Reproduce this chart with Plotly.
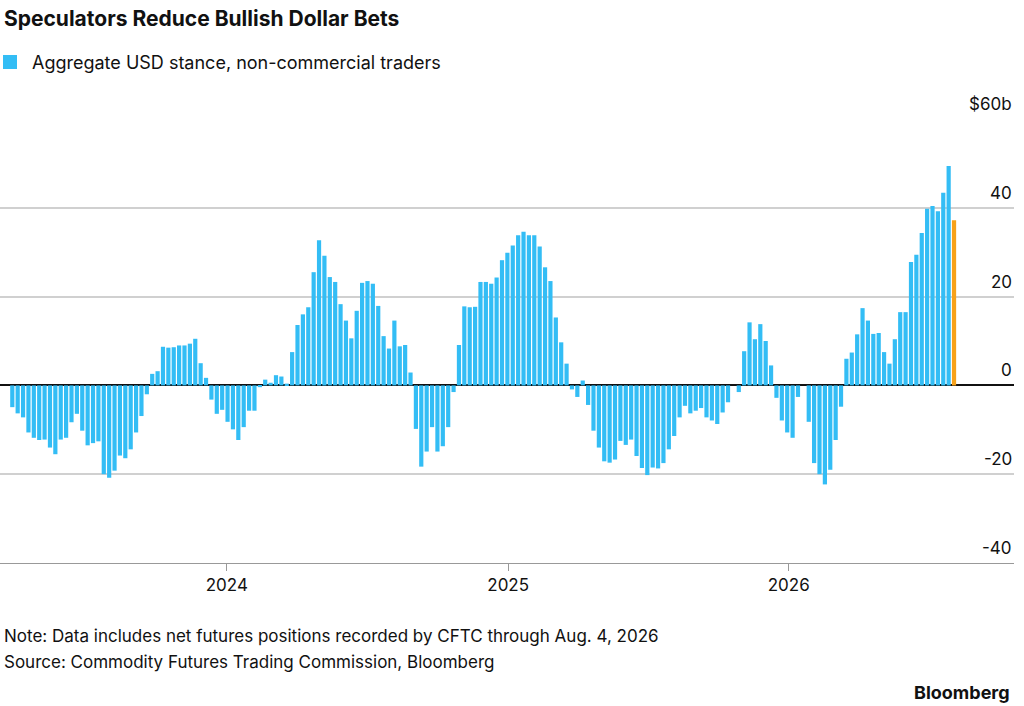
import pandas as pd
import plotly.graph_objects as go

# weekly aggregate USD stance, $ billions
values = [
    -4.9, -6.3, -7.2, -10.6, -11.8, -12.3, -12.2, -14.0, -15.5, -12.2,
    -11.8, -8.3, -6.4, -10.2, -13.5, -13.0, -12.6, -20.0, -20.8, -19.2,
    -15.8, -16.4, -14.4, -10.6, -6.9, -2.0, 2.6, 3.2, 8.7, 8.5,
    8.6, 9.0, 9.0, 9.4, 10.5, 5.0, 1.7, -3.2, -6.4, -5.5,
    -8.2, -9.9, -12.3, -9.4, -5.7, -5.7, -0.4, 1.3, 0.6, 2.3,
    2.0, 0.4, 7.5, 13.6, 16.0, 17.6, 25.5, 32.7, 29.2, 24.4,
    23.3, 18.3, 14.6, 10.6, 16.8, 23.1, 23.5, 22.9, 17.9, 11.1,
    8.3, 14.6, 8.8, 9.1, 2.9, -9.8, -18.3, -14.9, -9.4, -14.9,
    -13.7, -9.4, -1.5, 9.1, 17.8, 17.6, 17.7, 23.3, 23.3, 22.9,
    24.3, 28.2, 29.9, 31.5, 33.8, 34.6, 33.8, 33.8, 31.3, 26.6,
    23.5, 15.3, 9.7, 4.9, -0.9, -2.6, 1.1, -4.4, -10.2, -14.0,
    -17.1, -17.4, -16.7, -12.5, -13.4, -12.2, -15.9, -18.6, -20.2, -18.5,
    -18.7, -17.5, -14.4, -11.4, -7.2, -4.6, -6.3, -5.7, -5.1, -7.2,
    -7.9, -8.7, -6.1, -3.8, 0.0, -1.5, 7.7, 14.2, 10.4, 13.8,
    10.0, 4.5, -2.8, -7.9, -10.6, -11.8, -2.6, 0.0, -8.2, -17.5,
    -20.0, -22.3, -19.0, -12.3, -4.8, 6.0, 7.4, 11.5, 17.4, 14.6,
    11.6, 11.8, 7.5, 4.9, 10.4, 16.5, 16.5, 27.8, 29.4, 34.3,
    39.8, 40.4, 39.2, 43.4, 49.4, 37.2,
]
dates = pd.date_range(end="2026-08-04", periods=len(values), freq="7D")
colors = ["#33bdf5"] * (len(values) - 1) + ["#f7a21b"]

y_ticks = [-40, -20, 0, 20, 40, 60]
y_labels = ["-40", "-20", "0", "20", "40", "$60b"]

font = "Inter, Roboto, Liberation Sans, sans-serif"
TOP, BOTTOM = 119, 563  # plot area in pixels


def py(ypix):
    # figure pixel row -> paper coordinate (paper spans the plot area)
    return (BOTTOM - ypix) / (BOTTOM - TOP)


fig = go.Figure()
fig.add_trace(go.Bar(x=dates, y=values, marker_color=colors, marker_line_width=0,
                     showlegend=False))

fig.update_layout(
    width=1024, height=706,
    paper_bgcolor="white", plot_bgcolor="white",
    margin=dict(l=0, r=10, t=TOP, b=706 - BOTTOM, autoexpand=False),
    font=dict(family=font, size=17, color="#111"),
    bargap=0.22,
    xaxis=dict(
        range=["2023-03-12", "2026-10-21"],
        tickvals=["2024-01-01", "2025-01-01", "2026-01-01"],
        ticktext=["2024", "2025", "2026"],
        ticks="outside", ticklen=7, tickcolor="#999",
        showline=True, linecolor="#999", showgrid=False,
        tickfont=dict(size=17),
    ),
    yaxis=dict(
        range=[-40, 60], tickvals=y_ticks, showticklabels=False,
        gridcolor="#d0d0d0", gridwidth=1.5,
        zeroline=True, zerolinecolor="#111", zerolinewidth=1.5,
    ),
)

for v, lab in zip(y_ticks, y_labels):
    fig.add_annotation(text=lab, x=1, y=v, xref="paper", yref="y", xanchor="right",
                       yanchor="bottom", yshift=3, showarrow=False,
                       font=dict(size=17, family=font, color="#111"))

annots = [
    dict(text="<b>Speculators Reduce Bullish Dollar Bets</b>", x=2, y=18, size=21),
    dict(text="Aggregate USD stance, non-commercial traders", x=30, y=62, size=18),
    dict(text="Note: Data includes net futures positions recorded by CFTC through Aug. 4, 2026", x=2, y=636, size=17),
    dict(text="Source: Commodity Futures Trading Commission, Bloomberg", x=2, y=662, size=17),
]
for a in annots:
    fig.add_annotation(text=a["text"], x=a["x"] / 1014, y=py(a["y"]),
                       xref="paper", yref="paper", xanchor="left", yanchor="middle",
                       showarrow=False, font=dict(size=a["size"], family=font, color="#111"))
fig.add_annotation(text="<b>Bloomberg</b>", x=1012 / 1014, y=py(692), xref="paper",
                   yref="paper", xanchor="right", yanchor="middle", showarrow=False,
                   font=dict(size=18, family=font, color="#111"))
fig.add_shape(type="rect", xref="paper", yref="paper",
              x0=3 / 1014, x1=17 / 1014, y0=py(69), y1=py(55),
              fillcolor="#33bdf5", line_width=0)

# drop the browser's default body margin so the figure sits at the page corner
fig.write_html("out.html", config={"displayModeBar": False},
               post_script="document.body.style.margin='0';")
